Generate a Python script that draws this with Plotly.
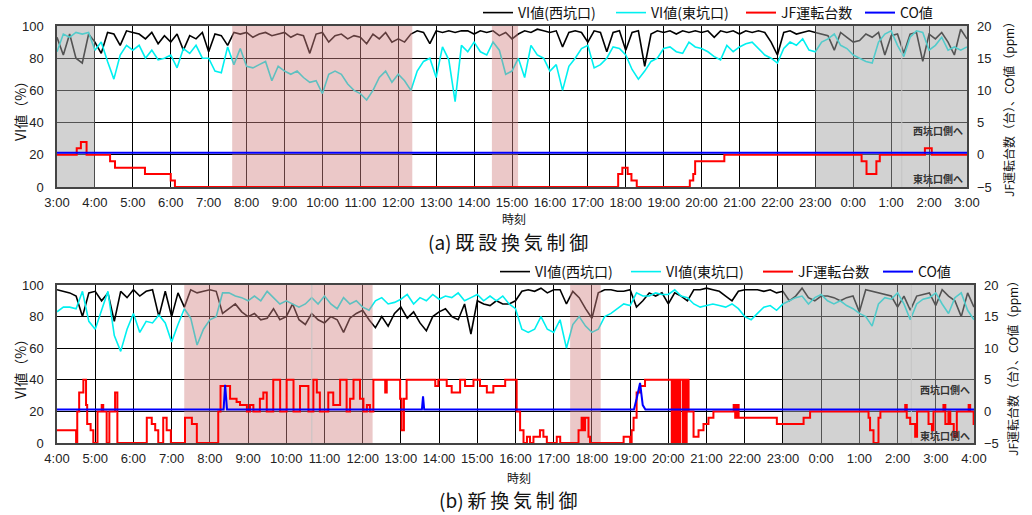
import plotly.graph_objects as go

W, H = 1032, 515

# ---------------- data: (a) existing control, 3:00 -> 3:00 (hours, 10-min samples) ----------------
vi_west_a = [
    93, 82, 95, 80, 77, 95,
    90, 83, 96, 95, 88, 97,
    96, 95, 92, 96, 89, 94,
    90, 95, 85, 94, 92, 96,
    84, 95, 94, 88, 96, 95,
    96, 93, 95, 96, 94, 95,
    96, 93, 95, 94, 83, 95,
    96, 90, 94, 95, 92, 94,
    93, 89, 95, 92, 96, 90,
    92, 90, 95, 97, 96, 89,
    97, 96, 97, 96, 97, 97,
    95, 97, 96, 97, 94, 96,
    92, 95, 97, 96, 98, 97,
    96, 97, 87, 96, 97, 96,
    90, 97, 96, 84, 96, 97,
    85, 96, 97, 75, 95, 97,
    96, 97, 95, 97, 96, 97,
    96, 97, 93, 97, 96, 97,
    95, 97, 96, 97, 96, 90,
    82, 96, 97, 95, 96, 97,
    96, 95, 94, 85, 96, 93,
    90, 91, 95, 93, 96, 82,
    94, 95, 83, 95, 96, 78,
    95, 92, 96, 90, 82, 98,
    92,
]
vi_east_a = [
    84, 95, 93, 96, 95, 96,
    85, 90, 78, 67, 82, 88,
    85, 88, 80, 85, 79, 80,
    82, 74, 86, 83, 88, 80,
    80, 72, 71, 87, 76, 86,
    75, 74, 76, 78, 66, 75,
    72, 70, 72, 68, 65, 66,
    58, 70, 72, 70, 64, 60,
    58, 54, 60, 68, 72, 65,
    70, 66, 60, 72, 78, 80,
    68, 87, 79, 53, 88, 84,
    90, 84, 82, 90, 85, 70,
    72, 80, 68, 88, 82, 80,
    72, 76, 60, 75, 80, 86,
    88, 74, 76, 80, 87, 86,
    82, 73, 67, 72, 78, 80,
    86, 87, 84, 83, 90, 87,
    86, 84, 81, 79, 88, 84,
    87, 89, 90, 86, 82, 80,
    77, 86, 90, 88, 92, 85,
    84, 90, 92, 95, 88, 86,
    82, 80, 78, 77, 90, 95,
    97, 88, 81, 93, 97, 96,
    85, 88, 93, 85, 87, 85,
    87,
]
jf_a_t = [3.0, 3.52, 3.63, 3.78, 4.40, 4.53, 5.32, 6.00, 6.11, 17.80, 17.91, 18.05, 18.15, 18.29,
          19.69, 19.78, 19.83, 20.60, 24.22, 24.35, 24.61, 24.70, 25.89, 26.07, 27.0]
jf_a_v = [0, 1, 2, 0, -1, -2, -3, -4, -5, -3, -2, -3, -4, -5,
          -4, -3, -1, 0, -1, -3, -1, 0, 1, 0, 0]
co_a_t = [3.0, 27.0]
co_a_v = [0.3, 0.3]
shade_a = [(3.0, 4.0, "gray"), (7.62, 12.37, "pink"), (14.47, 15.16, "pink"), (23.0, 27.0, "gray")]
sublines_a = [25.28]
ticks_a = ["3:00", "4:00", "5:00", "6:00", "7:00", "8:00", "9:00", "10:00", "11:00", "12:00",
           "13:00", "14:00", "15:00", "16:00", "17:00", "18:00", "19:00", "20:00", "21:00",
           "22:00", "23:00", "0:00", "1:00", "2:00", "3:00"]

# ---------------- data: (b) new control, 4:00 -> 4:00 ----------------
vi_west_b = [
    97, 96, 95, 93, 80, 95,
    96, 90, 95, 77, 96, 92,
    97, 93, 96, 97, 80, 96,
    80, 95, 86, 97, 95, 96,
    97, 96, 82, 85, 88, 83,
    80, 82, 78, 79, 85, 78,
    80, 88, 78, 75, 82, 78,
    76, 80, 78, 70, 79, 82,
    84, 78, 73, 80, 74, 82,
    86, 79, 83, 76, 71, 80,
    83, 85, 80, 78, 88, 69,
    90, 88, 87, 90, 88, 88,
    90, 96, 97, 96, 98, 95,
    97, 97, 88, 96, 92, 85,
    79, 95, 97, 97, 96, 96,
    97, 86, 90, 95, 93, 95,
    88, 95, 93, 90, 97, 97,
    98, 97, 96, 93, 90, 96,
    97, 97, 97, 96, 97, 95,
    96, 90, 93, 98, 92, 90,
    93, 93, 92, 90, 92, 93,
    83, 97, 96, 95, 94, 93,
    86, 93, 84, 93, 94, 95,
    87, 97, 93, 90, 80, 95,
    86,
]
vi_east_b = [
    83, 86, 86, 85, 96, 77,
    72, 84, 96, 68, 58, 72,
    82, 70, 77, 76, 81, 76,
    64, 75, 85, 79, 62, 72,
    78, 80, 95, 95, 93, 92,
    90, 93, 90, 96, 92, 88,
    90, 88, 86, 88, 92, 88,
    93, 88, 85, 92, 88, 90,
    86, 84, 90, 92, 88, 89,
    91, 94, 88, 92, 90, 94,
    91, 93, 92, 95, 90, 92,
    94, 90, 93, 90, 93, 88,
    85, 72, 70, 72, 80, 72,
    70, 78, 60, 75, 80, 74,
    70, 72, 80, 82, 85, 88,
    87, 95, 93, 93, 95, 94,
    94, 97, 93, 92, 88, 86,
    87, 88, 87, 86, 88, 85,
    80, 78, 82, 86, 87, 84,
    88, 90, 92, 93, 88, 92,
    94, 90, 88, 90, 87, 85,
    82, 80, 74, 88, 92, 91,
    95, 88, 78, 88, 91, 92,
    95, 88, 82, 92, 95, 84,
    78,
]
jf_b_t = [4.0, 4.50, 4.53, 4.58, 4.69, 4.76, 4.79, 4.88, 4.95, 5.06, 5.17, 5.21, 5.30, 5.37, 5.52, 5.58,
          6.35, 6.48, 6.57, 6.65, 6.78, 6.87, 6.98, 7.35, 7.53, 7.66, 8.22, 8.28, 8.53, 8.70, 8.79,
          8.97, 9.05, 9.14, 9.31, 9.40, 9.49, 9.66, 9.84, 10.01, 10.19, 10.36, 10.58, 10.71, 10.80,
          10.88, 11.10, 11.23, 11.41, 11.58, 11.67, 11.76, 11.93, 12.02, 12.11, 12.19, 12.28, 12.59,
          12.63, 12.98, 13.02, 13.08, 13.15, 13.90, 13.98, 14.20, 14.33, 14.55, 14.68, 14.90, 15.07,
          15.25, 15.42, 15.73, 16.03, 16.12, 16.21, 16.30, 16.38, 16.47, 16.64, 16.73, 16.82, 17.08,
          17.17, 17.65, 17.73, 17.78, 17.82, 17.91, 17.95, 18.83, 19.00, 19.04, 19.09, 19.17, 19.26,
          19.39, 20.09, 20.13, 20.18, 20.22, 20.27, 20.31, 20.38, 20.41, 20.44, 20.48, 20.53, 20.57,
          20.66, 20.79, 20.92, 21.05, 21.18, 21.71, 21.75, 21.80, 21.84, 22.84, 23.54, 23.71, 25.24,
          25.28, 25.37, 25.50, 25.55, 26.20, 26.24, 26.33, 26.46, 26.51, 26.81, 26.90, 26.94, 27.20,
          27.25, 27.33, 27.38, 27.47, 27.55, 27.86, 27.90, 27.99, 28.0]
jf_b_v = [-3, -5, 0, 3, 5, 1, -2, -3, -5, 0, 1, 0, -5, 0, 3, -5,
          -1, -2, -3, -5, -1, -3, -5, -1, -2, -5, 0, 4, 2, 1.5, 1,
          0, 1, 0, 2, 3, 0, 5, 0, 5, 0, 4, 0, 5, 3,
          0, 3, 1, 5, 0, 2, 5, 2, 0, 1, 0, 5, 3,
          5, 2, -3, 2, 5, 4, 5, 4, 3, 5, 4, 5, 4,
          3, 4, 5, 0, -3, -5, -4, -5, -4, -3, -4, -5, -4,
          -5, -3, -1, -3, -1, -4, -5, -4, -5, -3, -1, 3, 4,
          5, -5, 5, -5, 5, -5, 5, -5, 5, -5, 5, 0, 0,
          -4, -3, -2, -1, 0, 1, -1, 1, -1, -2, -1, 0, -1,
          -3, -5, -1, 0, 1, -1, -2, -4, 0, -2, -3, 0, 1,
          -2, 0, -2, -4, 0, 1, 0, -2, -2]
co_b_t = [4.0, 8.36, 8.40, 8.45, 13.55, 13.58, 13.61, 19.10, 19.17, 19.26, 19.33, 19.40, 28.0]
co_b_v = [0.3, 0.3, 4.2, 0.3, 0.3, 2.4, 0.3, 0.3, 2.0, 4.5, 1.0, 0.3, 0.3]
shade_b = [(7.33, 12.26, "pink"), (17.43, 18.23, "pink"), (23.0, 28.0, "gray")]
sublines_b = [10.67, 26.36]
ticks_b = ["4:00", "5:00", "6:00", "7:00", "8:00", "9:00", "10:00", "11:00", "12:00", "13:00",
           "14:00", "15:00", "16:00", "17:00", "18:00", "19:00", "20:00", "21:00", "22:00",
           "23:00", "0:00", "1:00", "2:00", "3:00", "4:00"]

series_names = ["VI値(西坑口)", "VI値(東坑口)", "JF運転台数", "CO値"]
series_colors = ["#000000", "#00f0f0", "#ff0000", "#0000ff"]
shade_colors = {"gray": "rgba(165,165,165,0.5)", "pink": "rgba(210,132,132,0.45)"}

LAT = "Liberation Sans, Arial, Noto Sans CJK JP"
JP = "Noto Sans CJK JP, Liberation Sans"

# text-start x (px) of each legend entry, and legend row y (px)
legend_text_x_a = [515, 648, 778, 897]
legend_text_x_b = [532, 663, 795, 915]
legend_y_a, legend_y_b = 13, 272


def times(start, n):
    return [start + i / 6 for i in range(n)]


fig = go.Figure()


def add_panel(xa, ya, ya2, start, west, east, jft, jfv, cot, cov, shades, sublines, legs, shape_jf):
    xs = times(start, len(west))
    fig.add_trace(go.Scatter(x=xs, y=west, name=series_names[0], mode="lines",
                             line=dict(color=series_colors[0], width=1.6), xaxis=xa, yaxis=ya, legend=legs[0]))
    fig.add_trace(go.Scatter(x=xs, y=east, name=series_names[1], mode="lines",
                             line=dict(color=series_colors[1], width=1.6), xaxis=xa, yaxis=ya, legend=legs[1]))
    for a, b, c in shades:
        fig.add_trace(go.Scatter(x=[a, b, b, a, a], y=[0, 0, 100, 100, 0], mode="lines", fill="toself",
                                 fillcolor=shade_colors[c], line=dict(width=0), hoverinfo="skip",
                                 showlegend=False, xaxis=xa, yaxis=ya))
    for s in sublines:
        fig.add_trace(go.Scatter(x=[s, s], y=[0, 100], mode="lines", line=dict(color="#c4c4c4", width=1),
                                 hoverinfo="skip", showlegend=False, xaxis=xa, yaxis=ya))
    fig.add_trace(go.Scatter(x=jft, y=jfv, name=series_names[2], mode="lines",
                             line=dict(color=series_colors[2], width=2, shape=shape_jf),
                             xaxis=xa, yaxis=ya2, legend=legs[2]))
    fig.add_trace(go.Scatter(x=cot, y=cov, name=series_names[3], mode="lines",
                             line=dict(color=series_colors[3], width=2), xaxis=xa, yaxis=ya2, legend=legs[3]))


legs_a = ["legend", "legend2", "legend3", "legend4"]
legs_b = ["legend5", "legend6", "legend7", "legend8"]
add_panel("x", "y", "y2", 3.0, vi_west_a, vi_east_a, jf_a_t, jf_a_v, co_a_t, co_a_v, shade_a, sublines_a, legs_a, "hv")
add_panel("x2", "y3", "y4", 4.0, vi_west_b, vi_east_b, jf_b_t, jf_b_v, co_b_t, co_b_v, shade_b, sublines_b, legs_b, "hv")

tickfont = dict(family=LAT, size=13, color="#222")
common_x = dict(showgrid=True, gridcolor="#000", gridwidth=1, showline=True, linecolor="#444", linewidth=1.5,
                mirror=True, tickfont=tickfont, ticks="", ticklabelstandoff=3, zeroline=False, automargin=False)
common_y = dict(showgrid=True, gridcolor="#000", gridwidth=1, showline=True, linecolor="#444", linewidth=1.5,
                mirror=True, tickfont=tickfont, ticks="", ticklabelstandoff=9, zeroline=False,
                range=[0, 100], tickvals=[0, 20, 40, 60, 80, 100], automargin=False)
common_y2 = dict(showgrid=False, tickfont=tickfont, ticks="", ticklabelstandoff=9, zeroline=False,
                 range=[-5, 20], tickvals=[-5, 0, 5, 10, 15, 20], side="right", automargin=False)

legend_common = dict(orientation="h", xanchor="left", yanchor="middle", xref="container", yref="container",
                     font=dict(family=JP, size=14, color="#111"), itemwidth=30, bgcolor="rgba(0,0,0,0)")

legend_layout = {}
for names, xs_, ly in ((legs_a, legend_text_x_a, legend_y_a), (legs_b, legend_text_x_b, legend_y_b)):
    for nm, tx in zip(names, xs_):
        legend_layout[nm] = dict(legend_common, x=(tx - 37) / W, y=1 - ly / H)

fig.update_layout(
    width=W, height=H, margin=dict(l=0, r=0, t=0, b=0, autoexpand=False),
    paper_bgcolor="white", plot_bgcolor="white",
    xaxis=dict(common_x, domain=[57 / W, 967 / W], range=[3, 27], tickvals=list(range(3, 28)),
               ticktext=ticks_a, anchor="y"),
    yaxis=dict(common_y, domain=[1 - 187 / H, 1 - 26 / H], anchor="x"),
    yaxis2=dict(common_y2, overlaying="y", anchor="x"),
    xaxis2=dict(common_x, domain=[57 / W, 974 / W], range=[4, 28], tickvals=list(range(4, 29)),
                ticktext=ticks_b, anchor="y3"),
    yaxis3=dict(common_y, domain=[1 - 443 / H, 1 - 285 / H], anchor="x2"),
    yaxis4=dict(common_y2, overlaying="y3", anchor="x2"),
    showlegend=True,
    **legend_layout,
)

ann = []


def txt(text, x, y, size, angle=0, color="#111", family=JP):
    ann.append(dict(text=text, x=x / W, y=1 - y / H, xref="paper", yref="paper", showarrow=False,
                    font=dict(family=family, size=size, color=color), textangle=angle,
                    xanchor="center", yanchor="middle"))


T = "\u2009"
txt("VI値（%）", 20, 108, 14, -90)
txt("VI値（%）", 20, 366, 14, -90)
txt("JF運転台数（台）、CO値（ppm）", 1009, 107, 12, -90)
txt("JF運転台数（台）、CO値（ppm）", 1012, 366, 12, -90)
txt("時刻", 514, 218, 12)
txt("時刻", 519, 477, 12)
txt("(a)" + T + T.join("既設換気制御"), 508, 241, 19)
txt("(b)" + T + T.join("新換気制御"), 508, 499, 19)
txt("<b>西坑口側へ</b>", 938, 130, 10, color="#333")
txt("<b>東坑口側へ</b>", 938, 178, 10, color="#333")
txt("<b>西坑口側へ</b>", 945, 389, 10, color="#333")
txt("<b>東坑口側へ</b>", 945, 435, 10, color="#333")
fig.update_layout(annotations=ann)

fig.write_html("out.html", config={"displayModeBar": False},
               post_script="document.body.style.margin='0';document.body.style.overflow='hidden';")
